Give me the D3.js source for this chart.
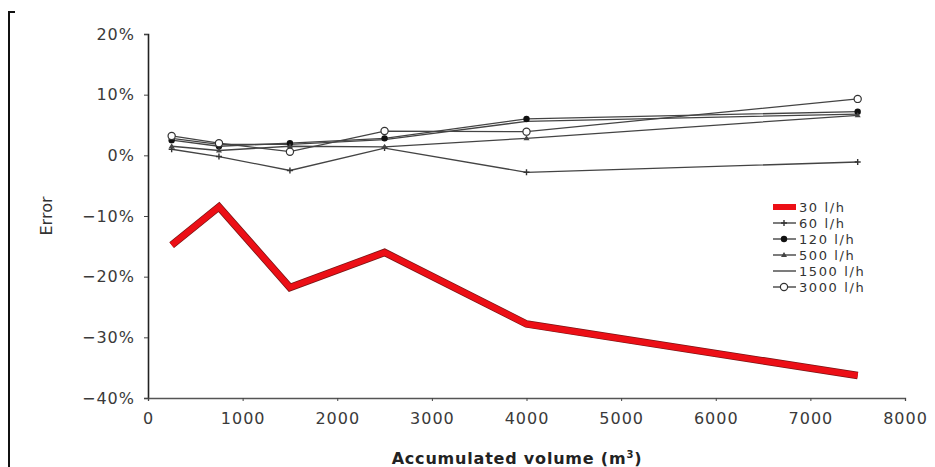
<!DOCTYPE html>
<html>
<head>
<meta charset="utf-8">
<script src="https://cdn.jsdelivr.net/npm/d3@7"></script>
<style>
  body { margin: 0; background: #fff; }
  svg { display: block; font-family: "DejaVu Sans", "Liberation Sans", Arial, sans-serif; }
</style>
</head>
<body>
<script>
// chart values
var volumes = [250, 750, 1500, 2500, 4000, 7500];
var seriesNames = ['30 l/h', '60 l/h', '120 l/h', '500 l/h', '1500 l/h', '3000 l/h'];
var err30 = [-14.8, -8.5, -21.8, -16.0, -27.8, -36.3];
var err60 = [1.0, -0.2, -2.5, 1.2, -2.8, -1.1];
var err120 = [2.5, 1.5, 2.0, 2.8, 6.0, 7.2];
var err500 = [1.5, 0.8, 1.5, 1.4, 2.8, 6.6];
var err1500 = [2.8, 1.8, 1.8, 2.6, 5.6, 6.8];
var err3000 = [3.2, 2.0, 0.6, 4.0, 3.9, 9.3];
var xTicks = [0, 1000, 2000, 3000, 4000, 5000, 6000, 7000, 8000];
var yTicks = [20, 10, 0, -10, -20, -30, -40];

var w = 935, h = 467,
    m = {left: 148, top: 34, right: 30, bottom: 69};

var svg = d3.select('body').append('svg')
  .attr('width', w)
  .attr('height', h);

var x = d3.scaleLinear().domain([0, 8000]).range([m.left, w - m.right]);
var y = d3.scaleLinear().domain([-40, 20]).range([h - m.bottom, m.top]);

// scan frame bracket on the left
svg.append('path')
  .attr('d', 'M15,12H9V467')
  .attr('fill', 'none')
  .attr('stroke', '#111')
  .attr('stroke-width', 2);

// axes
var yAxis = svg.append('g')
  .attr('transform', 'translate(' + m.left + ',0)')
  .call(d3.axisLeft(y).tickValues(yTicks).tickSize(4).tickPadding(9)
    .tickFormat(function(d){ return (d < 0 ? '\u2212' + (-d) : d) + '%'; }));
yAxis.select('.domain').attr('stroke', '#222').attr('stroke-width', 1.6);

var xAxis = svg.append('g')
  .attr('transform', 'translate(0,' + y(-40) + ')')
  .call(d3.axisBottom(x).tickValues(xTicks).tickSize(3).tickPadding(12).tickFormat(d3.format('d')));
xAxis.select('.domain').attr('stroke', '#555').attr('stroke-width', 1.3);

svg.selectAll('.tick line').attr('stroke', '#444');
svg.selectAll('.tick text')
  .attr('fill', '#3a3a3a')
  .style('font-family', '"DejaVu Sans", sans-serif')
  .style('font-size', '16px')
  .style('letter-spacing', '1px');

svg.append('text')
  .attr('x', 517).attr('y', 464)
  .attr('text-anchor', 'middle')
  .attr('fill', '#222')
  .style('font-size', '16px')
  .style('font-weight', 'bold')
  .style('letter-spacing', '0.8px')
  .html('Accumulated volume (m<tspan dy="-6" font-size="10">3</tspan><tspan dy="6">)</tspan>');

svg.append('text')
  .attr('transform', 'translate(52,' + y(-10) + ') rotate(-90)')
  .attr('text-anchor', 'middle')
  .attr('fill', '#333')
  .style('font-size', '16px')
  .text('Error');

// lines
var line = d3.line()
  .x(function(d, i){ return x(volumes[i]); })
  .y(function(d){ return y(d); });

var thin = [
  {name: '60 l/h', vals: err60, mark: 'plus'},
  {name: '120 l/h', vals: err120, mark: 'dot'},
  {name: '500 l/h', vals: err500, mark: 'tri'},
  {name: '1500 l/h', vals: err1500, mark: 'none'},
  {name: '3000 l/h', vals: err3000, mark: 'ring'}
];

function drawMark(g, type, cx, cy) {
  if (type === 'dot') {
    g.append('circle').attr('cx', cx).attr('cy', cy).attr('r', 3.2).attr('fill', '#111');
  } else if (type === 'ring') {
    g.append('circle').attr('cx', cx).attr('cy', cy).attr('r', 3.6)
      .attr('fill', '#fff').attr('stroke', '#333').attr('stroke-width', 1.2);
  } else if (type === 'plus') {
    g.append('path').attr('d', 'M' + (cx - 3) + ',' + cy + 'h6M' + cx + ',' + (cy - 3) + 'v6')
      .attr('stroke', '#333').attr('stroke-width', 1.4);
  } else if (type === 'tri') {
    g.append('path').attr('d', 'M' + (cx - 3) + ',' + (cy + 2) + 'L' + cx + ',' + (cy - 3) + 'L' + (cx + 3) + ',' + (cy + 2) + 'Z')
      .attr('fill', '#444');
  }
}

thin.forEach(function(s){
  svg.append('path')
    .datum(s.vals)
    .attr('d', line)
    .attr('fill', 'none')
    .attr('stroke', '#444')
    .attr('stroke-width', 1.3);
});
thin.forEach(function(s){
  var g = svg.append('g');
  s.vals.forEach(function(v, i){ drawMark(g, s.mark, x(volumes[i]), y(v)); });
});

// thick red series with dark edge
svg.append('path')
  .datum(err30)
  .attr('d', line)
  .attr('fill', 'none')
  .attr('stroke', '#7a1515')
  .attr('stroke-width', 7.5)
  .attr('stroke-linejoin', 'miter');
svg.append('path')
  .datum(err30)
  .attr('d', line)
  .attr('fill', 'none')
  .attr('stroke', '#ec0f16')
  .attr('stroke-width', 6)
  .attr('stroke-linejoin', 'miter');

// legend
var legend = svg.append('g').attr('transform', 'translate(773,207)');
var legendMarks = ['red', 'plus', 'dot', 'tri', 'none', 'ring'];
seriesNames.forEach(function(name, i){
  var ly = i * 16;
  if (legendMarks[i] === 'red') {
    legend.append('rect').attr('x', 0).attr('y', ly - 3).attr('width', 23).attr('height', 6).attr('fill', '#ec0f16');
  } else {
    legend.append('line').attr('x1', 0).attr('x2', 23).attr('y1', ly).attr('y2', ly)
      .attr('stroke', '#444').attr('stroke-width', 1.4);
    drawMark(legend, legendMarks[i], 11, ly);
  }
  legend.append('text')
    .attr('x', 26).attr('y', ly + 5)
    .attr('fill', '#333')
    .style('font-size', '13px')
    .style('letter-spacing', '1.6px')
    .text(name);
});
</script>
</body>
</html>
